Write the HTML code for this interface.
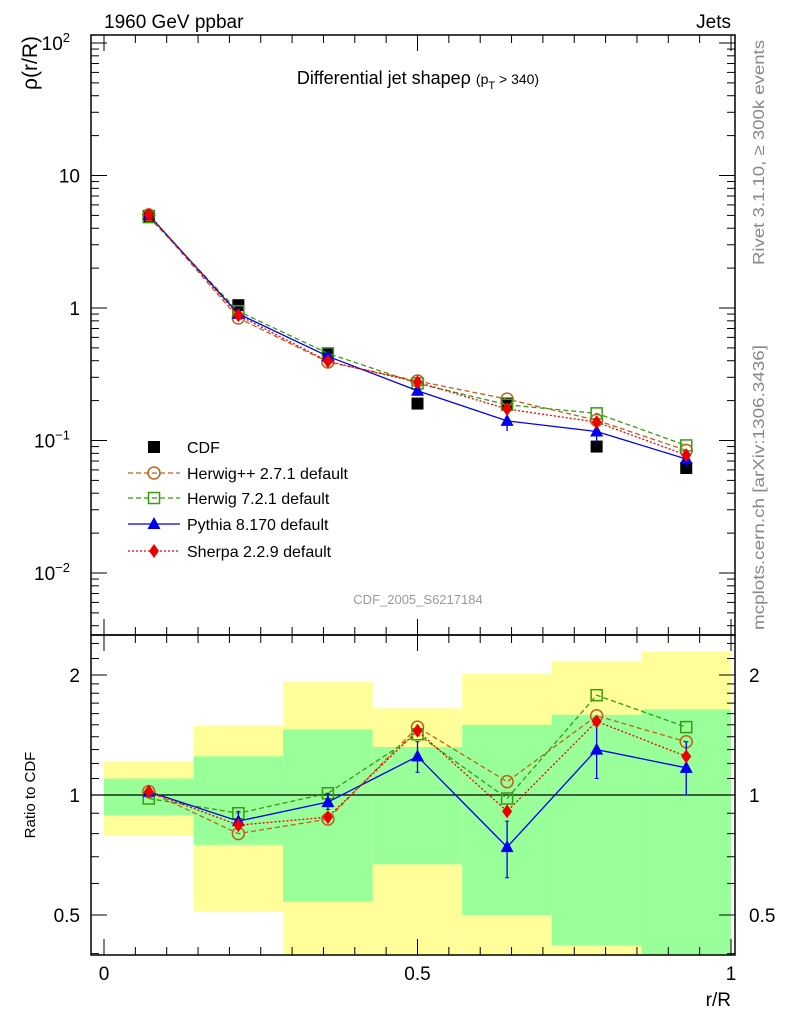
<!DOCTYPE html>
<html><head><meta charset="utf-8"><style>
body{margin:0;background:#fff;}
svg{font-family:"Liberation Sans",sans-serif;}
</style></head><body>
<svg id="c" width="786" height="1024" xmlns="http://www.w3.org/2000/svg">
<text x="104" y="28" font-size="19">1960 GeV ppbar</text>
<text x="731" y="28" font-size="19" text-anchor="end">Jets</text>
<text x="418" y="84" font-size="18" text-anchor="middle">Differential jet shapeρ <tspan font-size="14">(p</tspan><tspan font-size="11" dy="5">T</tspan><tspan font-size="14" dy="-5"> &gt; 340)</tspan></text>
<text x="418" y="604" font-size="13" fill="#999" text-anchor="middle">CDF_2005_S6217184</text>
<text transform="translate(764,265) rotate(-90)" font-size="16" fill="#888" textLength="225" lengthAdjust="spacingAndGlyphs">Rivet 3.1.10, ≥ 300k events</text>
<text transform="translate(764,630) rotate(-90)" font-size="16" fill="#888" textLength="285" lengthAdjust="spacingAndGlyphs">mcplots.cern.ch [arXiv:1306.3436]</text>
<text transform="translate(37,36) rotate(-90)" font-size="21" text-anchor="end">ρ(r/R)</text>
<text transform="translate(35,795) rotate(-90)" font-size="15" text-anchor="middle">Ratio to CDF</text>
<text x="731" y="1006" font-size="19" text-anchor="end">r/R</text>
<g id="g"></g>
</svg>
<script>
const categories=[0.0714,0.2143,0.3571,0.5,0.6429,0.7857,0.9286];
const binEdges=[0,0.1429,0.2857,0.4286,0.5714,0.7143,0.8571,1.0];
const cdfValues=[4.95,1.05,0.45,0.19,0.19,0.09,0.062];
const herwigppRatio=[1.02,0.80,0.87,1.48,1.08,1.58,1.36];
const herwig7Ratio=[0.98,0.90,1.01,1.42,0.98,1.78,1.48];
const pythiaRatio=[1.02,0.86,0.96,1.25,0.74,1.30,1.17];
const pythiaErrLo=[1.00,0.82,0.92,1.14,0.62,1.10,1.00];
const pythiaErrHi=[1.04,0.91,1.01,1.36,0.86,1.56,1.36];
const sherpaRatio=[1.02,0.84,0.88,1.45,0.91,1.53,1.25];
const yellowHi=[1.21,1.49,1.92,1.65,2.01,2.17,2.29];
const yellowLo=[0.79,0.51,0.3,0.3,0.3,0.3,0.3];
const greenHi=[1.10,1.25,1.46,1.32,1.50,1.59,1.64];
const greenLo=[0.89,0.75,0.54,0.67,0.50,0.42,0.3];
const mainTicks=[["10","2",100],["10","",10],["1","",1],["10","−1",0.1],["10","−2",0.01]];
const ratioTicks=[["2",2],["1",1],["0.5",0.5]];
const xTicks=[["0",0],["0.5",0.5],["1",1]];

const NS="http://www.w3.org/2000/svg";
const g=document.getElementById('g');
const L=91,R=735,T=35,M=635,B=955;
const X=v=>104+627*v;
const Y=v=>308-132.5*Math.log10(v);
const YR=v=>Math.max(T, Math.min(B, 795-120*Math.log2(v)));
const YRc=v=>Math.max(M,Math.min(B,795-120*Math.log2(v)));
function mk(t,a,p){const e=document.createElementNS(NS,t);for(const k in a)e.setAttribute(k,a[k]);(p||g).appendChild(e);return e;}

for(let i=0;i<7;i++){
 const x0=X(binEdges[i]),x1=X(binEdges[i+1]);
 let r=mk('rect',{x:x0,y:YRc(yellowHi[i]),width:x1-x0,height:YRc(yellowLo[i])-YRc(yellowHi[i]),fill:'#ffff99'});
 
 
 r=mk('rect',{x:x0,y:YRc(greenHi[i]),width:x1-x0,height:YRc(greenLo[i])-YRc(greenHi[i]),fill:'#99ff99'});
 
 
}
mk('line',{x1:L,x2:R,y1:795,y2:795,stroke:'#000','stroke-width':1.3});

let f=mk('rect',{x:L,y:T,width:R-L,height:M-T,fill:'none',stroke:'#000','stroke-width':1.5});


f=mk('rect',{x:L,y:M,width:R-L,height:B-M,fill:'none',stroke:'#000','stroke-width':1.5});



for(let d=-3;d<=2;d++){for(let k=1;k<10;k++){const v=k*Math.pow(10,d);const y=Y(v);if(y<T||y>M)continue;const len=k==1?16:8;
 mk('line',{x1:L,x2:L+len,y1:y,y2:y,stroke:'#000'});mk('line',{x1:R,x2:R-len,y1:y,y2:y,stroke:'#000'});}}
mainTicks.forEach(t=>{const tx=mk('text',{x:t[1]?70:80,y:Y(t[2])+7,'font-size':19,'text-anchor':'end'});
 
 
 tx.textContent=t[0];if(t[1]){const s=mk('tspan',{dy:-8,'font-size':13},tx);s.textContent=t[1];}});
[0.4,0.5,0.6,0.7,0.8,0.9,1,1.1,1.2,1.3,1.4,1.5,1.6,1.7,1.8,1.9,2,2.2,2.4].forEach(v=>{const y=YR(v);if(y<=M||y>=B)return;const len=(v==0.5||v==1||v==2)?16:8;
 mk('line',{x1:L,x2:L+len,y1:y,y2:y,stroke:'#000'});mk('line',{x1:R,x2:R-len,y1:y,y2:y,stroke:'#000'});});
ratioTicks.forEach(t=>{let tx=mk('text',{x:80,y:YR(t[1])+7,'font-size':19,'text-anchor':'end'});tx.textContent=t[0];
 
 
 tx=mk('text',{x:749,y:YR(t[1])+7,'font-size':19});tx.textContent=t[0];
 
 });
for(let i=0;i<=20;i++){const v=i*0.05,x=X(v),len=i%10==0?16:8;
 [T,M].forEach(y=>{mk('line',{x1:x,x2:x,y1:y,y2:y+len,stroke:'#000'});});
 [M,B].forEach(y=>{mk('line',{x1:x,x2:x,y1:y,y2:y-len,stroke:'#000'});});}
xTicks.forEach(t=>{const tx=mk('text',{x:X(t[1]),y:980,'font-size':19,'text-anchor':'middle'});tx.textContent=t[0];
 
 });

function marker(type,x,y,c,p){
 if(type=='sq') return mk('rect',{x:x-6,y:y-6,width:12,height:12,fill:c},p);
 if(type=='osq') return mk('rect',{x:x-5.5,y:y-5.5,width:11,height:11,fill:'none',stroke:c,'stroke-width':1.5},p);
 if(type=='circ') return mk('circle',{cx:x,cy:y,r:6,fill:'none',stroke:c,'stroke-width':1.5},p);
 if(type=='tri') return mk('path',{d:`M${x},${y-7}L${x+6.5},${y+5}L${x-6.5},${y+5}Z`,fill:c},p);
 if(type=='dia') return mk('path',{d:`M${x},${y-7}L${x+5},${y}L${x},${y+7}L${x-5},${y}Z`,fill:c},p);
}
const series=[
 {n:'herwigpp',r:herwigppRatio,c:'#c0601a',dash:'5,3',m:'circ',lab:'Herwig++ 2.7.1 default'},
 {n:'herwig7',r:herwig7Ratio,c:'#3a9a10',dash:'5,3',m:'osq',lab:'Herwig 7.2.1 default'},
 {n:'pythia',r:pythiaRatio,c:'#0000ee',dash:'',m:'tri',lab:'Pythia 8.170 default'},
 {n:'sherpa',r:sherpaRatio,c:'#ee0000',dash:'2,2',m:'dia',lab:'Sherpa 2.2.9 default'}];
const cg=mk('g',{});


categories.forEach((x,i)=>{marker('sq',X(x),Y(cdfValues[i]),'#000',cg);});
series.forEach(s=>{
 const grp=mk('g',{});
 
 
 const pts=categories.map((x,i)=>X(x)+','+Y(s.r[i]*cdfValues[i])).join(' ');
 mk('polyline',{points:pts,fill:'none',stroke:s.c,'stroke-width':1.3,'stroke-dasharray':s.dash},grp);
 const pr=categories.map((x,i)=>X(x)+','+YR(s.r[i])).join(' ');
 mk('polyline',{points:pr,fill:'none',stroke:s.c,'stroke-width':1.3,'stroke-dasharray':s.dash},grp);
 if(s.n=='pythia'){categories.forEach((x,i)=>{
  mk('line',{x1:X(x),x2:X(x),y1:YR(pythiaErrLo[i]),y2:YR(pythiaErrHi[i]),stroke:s.c,'stroke-width':1.3},grp);
  mk('line',{x1:X(x)-2,x2:X(x)+2,y1:YR(pythiaErrLo[i]),y2:YR(pythiaErrLo[i]),stroke:s.c},grp);
  mk('line',{x1:X(x)-2,x2:X(x)+2,y1:YR(pythiaErrHi[i]),y2:YR(pythiaErrHi[i]),stroke:s.c},grp);
  mk('line',{x1:X(x),x2:X(x),y1:Y(pythiaErrLo[i]*cdfValues[i]),y2:Y(pythiaErrHi[i]*cdfValues[i]),stroke:s.c,'stroke-width':1.3},grp);});}
 categories.forEach((x,i)=>{marker(s.m,X(x),Y(s.r[i]*cdfValues[i]),s.c,grp);marker(s.m,X(x),YR(s.r[i]),s.c,grp);});
});
const lg=mk('g',{});


const ly=[447,473,498,524,551];
marker('sq',154,ly[0],'#000',lg);
let t0=mk('text',{x:187,y:ly[0]+6,'font-size':16},lg);t0.textContent='CDF';
series.forEach((s,i)=>{const y=ly[i+1];
 mk('line',{x1:128,x2:180,y1:y,y2:y,stroke:s.c,'stroke-width':1.3,'stroke-dasharray':s.dash},lg);
 marker(s.m,154,y,s.c,lg);
 const tx=mk('text',{x:187,y:y+6,'font-size':16},lg);tx.textContent=s.lab;});
</script>
</body></html>
